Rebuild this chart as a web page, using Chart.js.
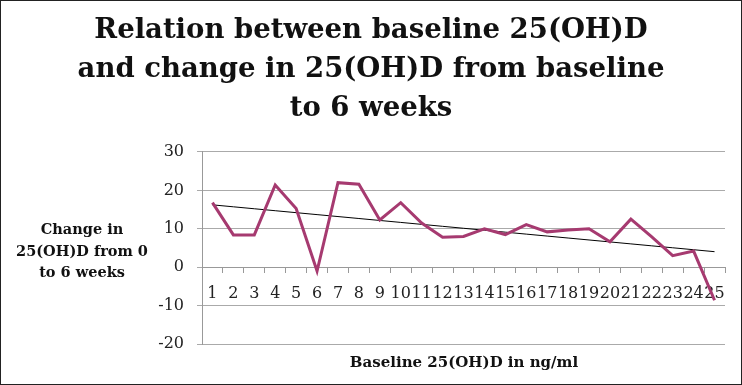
<!DOCTYPE html>
<html><head><meta charset="utf-8">
<script src="https://cdn.jsdelivr.net/npm/chart.js@4"></script>
<style>html,body{margin:0;padding:0;background:#fff}#wrap{width:742px;height:385px;position:relative}canvas{display:block}</style>
</head><body><div id="wrap"><canvas id="c" width="742" height="385"></canvas></div>
<script>
const categories = ['1','2','3','4','5','6','7','8','9','10','11','12','13','14','15','16','17','18','19','20','21','22','23','24','25'];
const changeValues = [16.8, 8.4, 8.4, 21.4, 15.3, -1.0, 22.0, 21.6, 12.3, 16.8, 11.5, 7.8, 8.0, 10.0, 8.5, 11.1, 9.2, 9.7, 10.0, 6.6, 12.5, 7.9, 3.0, 4.2, -8.6];
const yTickValues = [-20, -10, 0, 10, 20, 30];
const titleLines = ['Relation between baseline 25(OH)D', 'and change in 25(OH)D from baseline', 'to 6 weeks'];
const yTitleLines = ['Change in', '25(OH)D from 0', 'to 6 weeks'];
const xTitle = 'Baseline 25(OH)D in ng/ml';

// linear trendline (least squares) computed from the data
const n = changeValues.length;
const xs = changeValues.map((_, i) => i + 1);
const mx = xs.reduce((a, b) => a + b, 0) / n;
const my = changeValues.reduce((a, b) => a + b, 0) / n;
let sxy = 0, sxx = 0;
for (let i = 0; i < n; i++) { sxy += (xs[i] - mx) * (changeValues[i] - my); sxx += (xs[i] - mx) ** 2; }
const slope = sxy / sxx, intercept = my - slope * mx;
const trendValues = xs.map(x => intercept + slope * x);

const SERIF = "'DejaVu Serif', 'Liberation Serif', serif";

const extras = {
  id: 'extras',
  afterDraw(chart) {
    const ctx = chart.ctx;
    ctx.save();
    ctx.fillStyle = '#111';
    ctx.textAlign = 'center';
    ctx.textBaseline = 'alphabetic';
    ctx.font = "bold 14.5px " + SERIF;
    yTitleLines.forEach((t, i) => ctx.fillText(t, 82, 234 + i * 21.5));
    ctx.font = "bold 15px " + SERIF;
    ctx.fillText(xTitle, 464, 367);
    ctx.strokeStyle = '#222';
    ctx.lineWidth = 1;
    ctx.strokeRect(0.5, 0.5, 741, 384);
    ctx.restore();
  }
};

new Chart(document.getElementById('c'), {
  type: 'line',
  data: {
    labels: categories,
    datasets: [
      { data: changeValues, borderColor: '#a63a70', borderWidth: 3, pointRadius: 0, tension: 0, fill: false },
      { data: trendValues, borderColor: '#000', borderWidth: 1, pointRadius: 0, tension: 0, fill: false }
    ]
  },
  options: {
    responsive: false,
    animation: false,
    devicePixelRatio: 1,
    layout: { padding: { left: 17, right: 17, top: 0, bottom: 41 } },
    plugins: {
      legend: { display: false },
      tooltip: { enabled: false },
      title: {
        display: true,
        text: titleLines,
        color: '#111',
        font: { family: SERIF, size: 27.5, weight: 'bold', lineHeight: 1.418 },
        padding: { top: 11, bottom: 24 }
      }
    },
    scales: {
      x: {
        type: 'category',
        position: { y: 0 },
        offset: true,
        grid: { offset: true, drawOnChartArea: false, tickLength: 5, color: '#999' },
        border: { color: '#999', width: 1 },
        ticks: { autoSkip: false, maxRotation: 0, minRotation: 0, color: '#222', padding: 12, font: { family: SERIF, size: 16 } }
      },
      y: {
        min: -20, max: 30,
        afterBuildTicks: s => { s.ticks = yTickValues.map(v => ({ value: v })); },
        afterFit: s => { s.width = 185; },
        grid: { color: '#aaa', tickLength: 5 },
        border: { color: '#999', width: 1 },
        ticks: { color: '#222', padding: 13, font: { family: SERIF, size: 16 } }
      }
    }
  },
  plugins: [extras]
});
</script></body></html>
